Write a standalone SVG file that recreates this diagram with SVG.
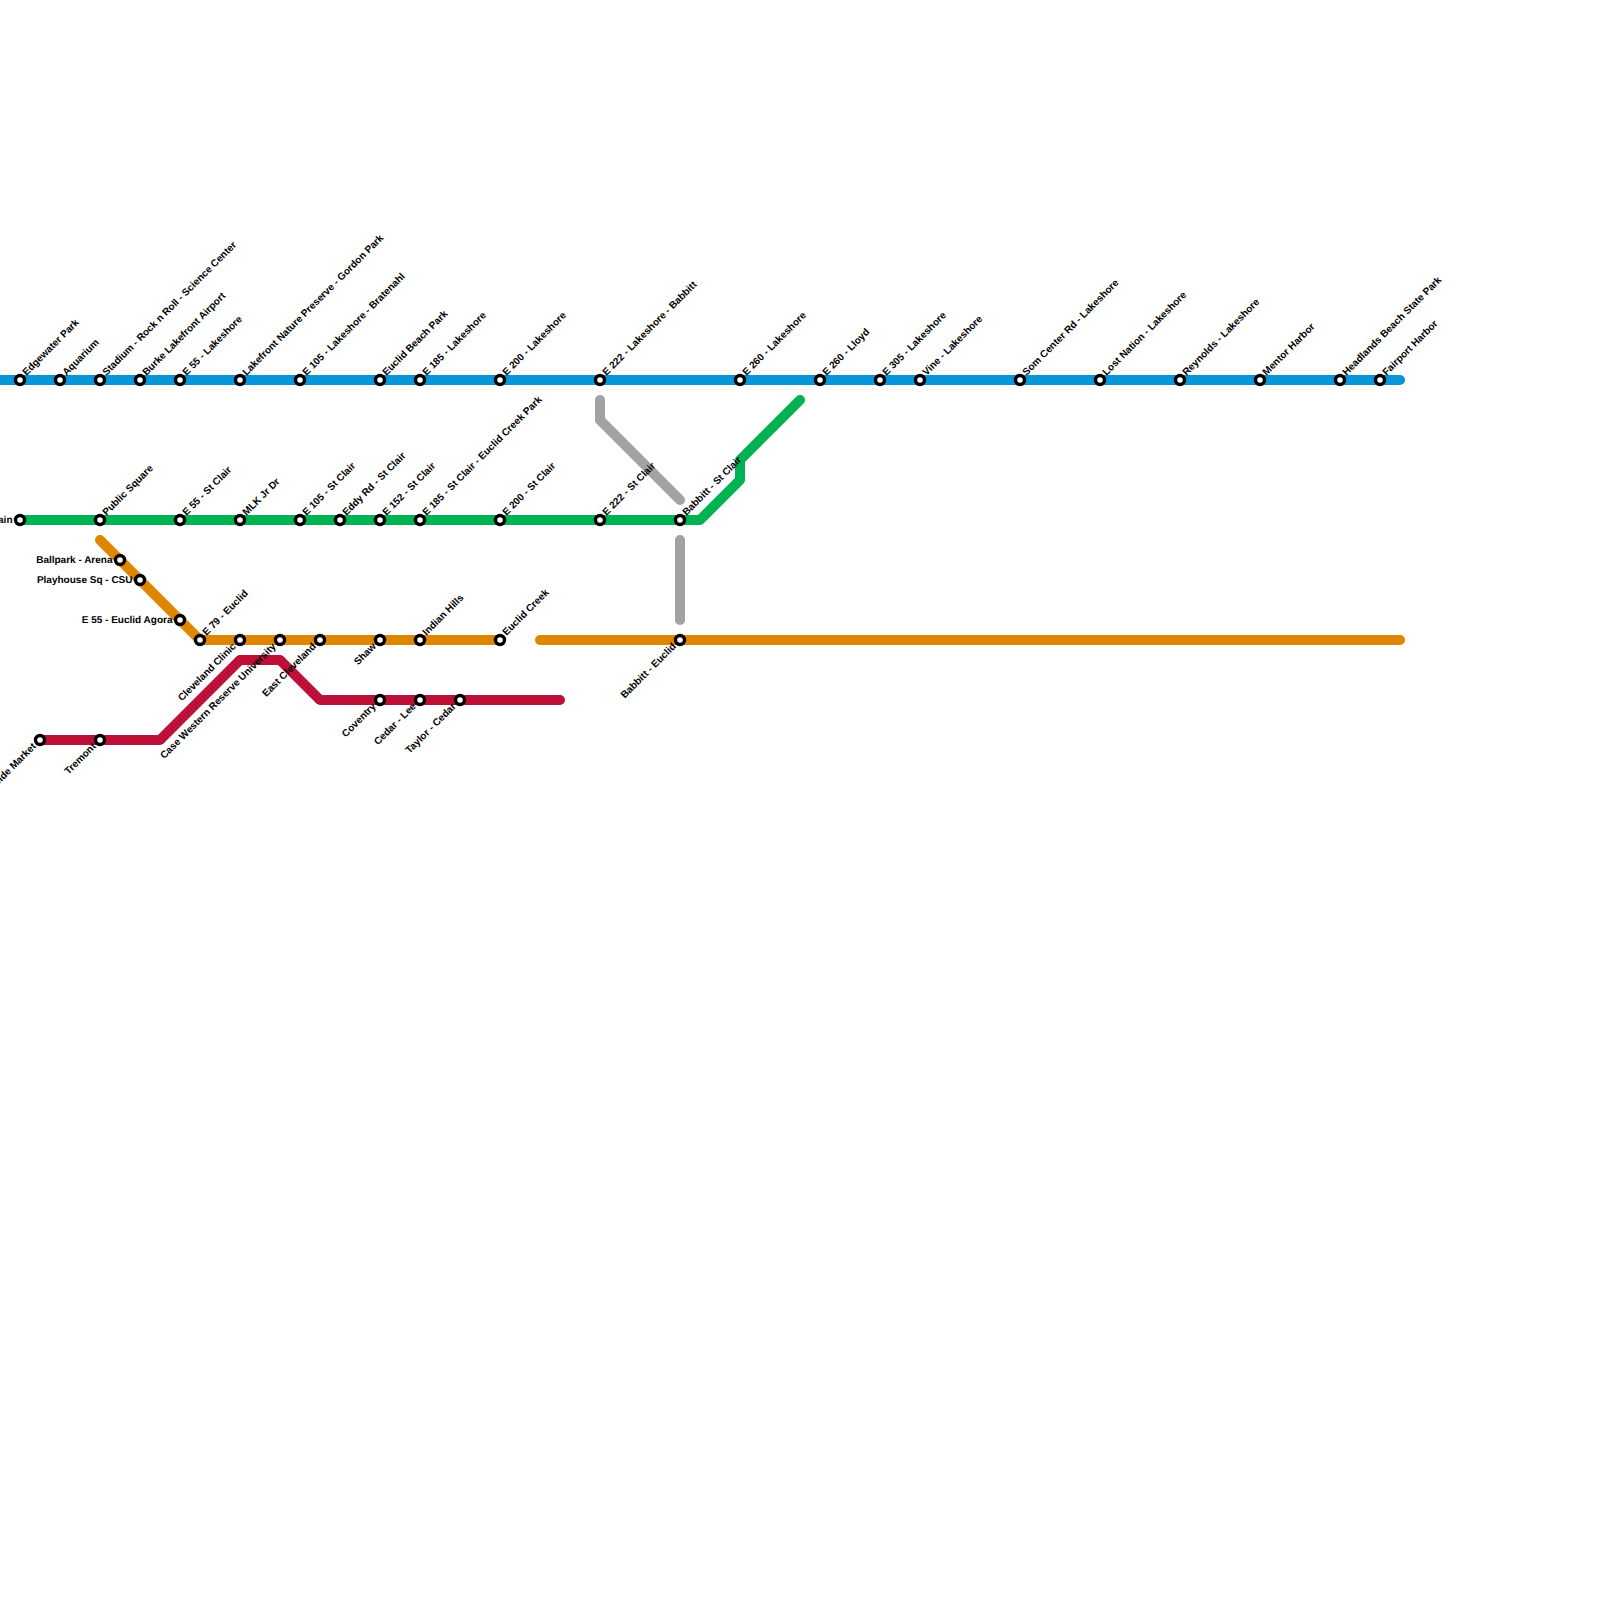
<svg xmlns="http://www.w3.org/2000/svg" width="1600" height="1600" viewBox="0 0 1600 1600">
<style>
.l{fill:none;stroke-width:10;stroke-linecap:round;stroke-linejoin:round}
.b{stroke:#0896d7}.g{stroke:#00b251}.o{stroke:#df8600}.r{stroke:#bd1038}.y{stroke:#a2a2a2}
circle{fill:#fff;stroke:#000;stroke-width:3.4}
text{font-family:"Liberation Sans",Arial,sans-serif;font-size:10px;font-weight:700;fill:#000;text-rendering:geometricPrecision}
.e{text-anchor:end}
</style>
<rect width="1600" height="1600" fill="#fff"/>
<g id="connectors">
<path class="l y" d="M600 400V420L680 500"/>
<path class="l y" d="M680 540V620"/>
<path class="l b" d="M-20 380H1400"/>
<path class="l g" d="M20 520H700L740 480V460L800 400"/>
<path class="l o" d="M100 540L200 640H500"/>
<path class="l o" d="M540 640H1400"/>
<path class="l r" d="M40 740H160L240 660H280L320 700H560"/>
</g>
<g id="n1"><circle cx="20" cy="380" r="4.5"/><text transform="translate(26.5 376) rotate(-45)">Edgewater Park</text></g>
<g id="n2"><circle cx="60" cy="380" r="4.5"/><text transform="translate(66.5 376) rotate(-45)">Aquarium</text></g>
<g id="n3"><circle cx="100" cy="380" r="4.5"/><text transform="translate(106.5 376) rotate(-45)">Stadium - Rock n Roll - Science Center</text></g>
<g id="n4"><circle cx="140" cy="380" r="4.5"/><text transform="translate(146.5 376) rotate(-45)">Burke Lakefront Airport</text></g>
<g id="n5"><circle cx="180" cy="380" r="4.5"/><text transform="translate(186.5 376) rotate(-45)">E 55 - Lakeshore</text></g>
<g id="n6"><circle cx="240" cy="380" r="4.5"/><text transform="translate(246.5 376) rotate(-45)">Lakefront Nature Preserve - Gordon Park</text></g>
<g id="n7"><circle cx="300" cy="380" r="4.5"/><text transform="translate(306.5 376) rotate(-45)">E 105 - Lakeshore - Bratenahl</text></g>
<g id="n8"><circle cx="380" cy="380" r="4.5"/><text transform="translate(386.5 376) rotate(-45)">Euclid Beach Park</text></g>
<g id="n9"><circle cx="420" cy="380" r="4.5"/><text transform="translate(426.5 376) rotate(-45)">E 185 - Lakeshore</text></g>
<g id="n10"><circle cx="500" cy="380" r="4.5"/><text transform="translate(506.5 376) rotate(-45)">E 200 - Lakeshore</text></g>
<g id="n11"><circle cx="600" cy="380" r="4.5"/><text transform="translate(606.5 376) rotate(-45)">E 222 - Lakeshore - Babbitt</text></g>
<g id="n12"><circle cx="740" cy="380" r="4.5"/><text transform="translate(746.5 376) rotate(-45)">E 260 - Lakeshore</text></g>
<g id="n13"><circle cx="820" cy="380" r="4.5"/><text transform="translate(826.5 376) rotate(-45)">E 260 - Lloyd</text></g>
<g id="n14"><circle cx="880" cy="380" r="4.5"/><text transform="translate(886.5 376) rotate(-45)">E 305 - Lakeshore</text></g>
<g id="n15"><circle cx="920" cy="380" r="4.5"/><text transform="translate(926.5 376) rotate(-45)">Vine - Lakeshore</text></g>
<g id="n16"><circle cx="1020" cy="380" r="4.5"/><text transform="translate(1026.5 376) rotate(-45)">Som Center Rd - Lakeshore</text></g>
<g id="n17"><circle cx="1100" cy="380" r="4.5"/><text transform="translate(1106.5 376) rotate(-45)">Lost Nation - Lakeshore</text></g>
<g id="n18"><circle cx="1180" cy="380" r="4.5"/><text transform="translate(1186.5 376) rotate(-45)">Reynolds - Lakeshore</text></g>
<g id="n19"><circle cx="1260" cy="380" r="4.5"/><text transform="translate(1266.5 376) rotate(-45)">Mentor Harbor</text></g>
<g id="n20"><circle cx="1340" cy="380" r="4.5"/><text transform="translate(1346.5 376) rotate(-45)">Headlands Beach State Park</text></g>
<g id="n21"><circle cx="1380" cy="380" r="4.5"/><text transform="translate(1386.5 376) rotate(-45)">Fairport Harbor</text></g>
<g id="n22"><circle cx="20" cy="520" r="4.5"/><text class="e" x="12.5" y="522.5">Main</text></g>
<g id="n23"><circle cx="100" cy="520" r="4.5"/><text transform="translate(106.5 516) rotate(-45)">Public Square</text></g>
<g id="n24"><circle cx="180" cy="520" r="4.5"/><text transform="translate(186.5 516) rotate(-45)">E 55 - St Clair</text></g>
<g id="n25"><circle cx="240" cy="520" r="4.5"/><text transform="translate(246.5 516) rotate(-45)">MLK Jr Dr</text></g>
<g id="n26"><circle cx="300" cy="520" r="4.5"/><text transform="translate(306.5 516) rotate(-45)">E 105 - St Clair</text></g>
<g id="n27"><circle cx="340" cy="520" r="4.5"/><text transform="translate(346.5 516) rotate(-45)">Eddy Rd - St Clair</text></g>
<g id="n28"><circle cx="380" cy="520" r="4.5"/><text transform="translate(386.5 516) rotate(-45)">E 152 - St Clair</text></g>
<g id="n29"><circle cx="420" cy="520" r="4.5"/><text transform="translate(426.5 516) rotate(-45)">E 185 - St Clair - Euclid Creek Park</text></g>
<g id="n30"><circle cx="500" cy="520" r="4.5"/><text transform="translate(506.5 516) rotate(-45)">E 200 - St Clair</text></g>
<g id="n31"><circle cx="600" cy="520" r="4.5"/><text transform="translate(606.5 516) rotate(-45)">E 222 - St Clair</text></g>
<g id="n32"><circle cx="680" cy="520" r="4.5"/><text transform="translate(686.5 516) rotate(-45)">Babbitt - St Clair</text></g>
<g id="n33"><circle cx="120" cy="560" r="4.5"/><text class="e" x="112.5" y="562.5">Ballpark - Arena</text></g>
<g id="n34"><circle cx="140" cy="580" r="4.5"/><text class="e" x="132.5" y="582.5">Playhouse Sq - CSU</text></g>
<g id="n35"><circle cx="180" cy="620" r="4.5"/><text class="e" x="172.5" y="622.5">E 55 - Euclid Agora</text></g>
<g id="n36"><circle cx="200" cy="640" r="4.5"/><text transform="translate(206.5 636) rotate(-45)">E 79 - Euclid</text></g>
<g id="n37"><circle cx="240" cy="640" r="4.5"/><text class="e" transform="translate(236.5 647) rotate(-45)">Cleveland Clinic</text></g>
<g id="n38"><circle cx="280" cy="640" r="4.5"/><text class="e" transform="translate(276.5 647) rotate(-45)">Case Western Reserve University</text></g>
<g id="n39"><circle cx="320" cy="640" r="4.5"/><text class="e" transform="translate(316.5 647) rotate(-45)">East Cleveland</text></g>
<g id="n40"><circle cx="380" cy="640" r="4.5"/><text class="e" transform="translate(376.5 647) rotate(-45)">Shaw</text></g>
<g id="n41"><circle cx="420" cy="640" r="4.5"/><text transform="translate(426.5 636) rotate(-45)">Indian Hills</text></g>
<g id="n42"><circle cx="500" cy="640" r="4.5"/><text transform="translate(506.5 636) rotate(-45)">Euclid Creek</text></g>
<g id="n43"><circle cx="680" cy="640" r="4.5"/><text class="e" transform="translate(676.5 647) rotate(-45)">Babbitt - Euclid</text></g>
<g id="n44"><circle cx="40" cy="740" r="4.5"/><text class="e" transform="translate(36.5 747) rotate(-45)">West Side Market</text></g>
<g id="n45"><circle cx="100" cy="740" r="4.5"/><text class="e" transform="translate(96.5 747) rotate(-45)">Tremont</text></g>
<g id="n46"><circle cx="380" cy="700" r="4.5"/><text class="e" transform="translate(376.5 707) rotate(-45)">Coventry</text></g>
<g id="n47"><circle cx="420" cy="700" r="4.5"/><text class="e" transform="translate(416.5 707) rotate(-45)">Cedar - Lee</text></g>
<g id="n48"><circle cx="460" cy="700" r="4.5"/><text class="e" transform="translate(456.5 707) rotate(-45)">Taylor - Cedar</text></g>
</svg>
